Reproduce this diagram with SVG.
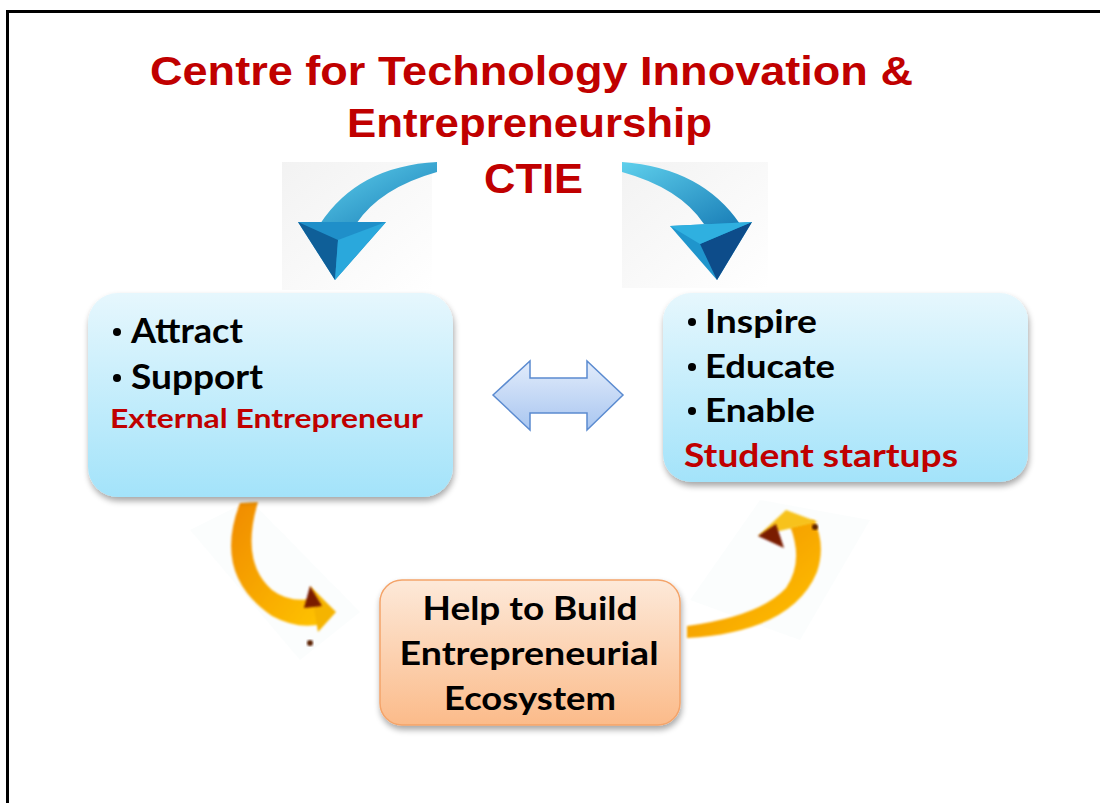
<svg xmlns="http://www.w3.org/2000/svg" width="1100" height="803" viewBox="0 0 1100 803">
<defs>
<linearGradient id="gBox" x1="0" y1="0" x2="0" y2="1"><stop offset="0" stop-color="#e6f7fd"/><stop offset="1" stop-color="#a3e3fa"/></linearGradient>
<linearGradient id="gOr" x1="0" y1="0" x2="0" y2="1"><stop offset="0" stop-color="#fde9d9"/><stop offset="1" stop-color="#fbbb8a"/></linearGradient>
<linearGradient id="gDbl" x1="0" y1="0" x2="0" y2="1"><stop offset="0" stop-color="#e2ecfb"/><stop offset="1" stop-color="#a9c6f0"/></linearGradient>
<linearGradient id="gBg" x1="0" y1="0" x2="1" y2="1"><stop offset="0" stop-color="#ededed"/><stop offset="1" stop-color="#ffffff"/></linearGradient>
<linearGradient id="gBlue" x1="0" y1="0" x2="1" y2="1"><stop offset="0" stop-color="#5fd0ec"/><stop offset="1" stop-color="#1a7fb8"/></linearGradient>
<linearGradient id="gOrA" x1="0" y1="0" x2="1" y2="1"><stop offset="0" stop-color="#f08a00"/><stop offset="1" stop-color="#ffc400"/></linearGradient>
<filter id="sh" x="-10%" y="-10%" width="120%" height="130%"><feGaussianBlur in="SourceAlpha" stdDeviation="3"/><feOffset dx="1" dy="4"/><feComponentTransfer><feFuncA type="linear" slope="0.35"/></feComponentTransfer><feMerge><feMergeNode/><feMergeNode in="SourceGraphic"/></feMerge></filter>
<filter id="blur"><feGaussianBlur stdDeviation="1"/></filter>
</defs>
<style>
.t{font-family:"Liberation Sans",Arial,sans-serif;font-weight:bold;fill:#c00000;}
.b{font-family:Lato,"Open Sans",sans-serif;font-weight:bold;fill:#000;}
.r{font-family:Lato,"Open Sans",sans-serif;font-weight:bold;fill:#c00000;}
</style>
<rect width="1100" height="803" fill="#fff"/>
<path d="M7.5 803 V11.5 H1100" fill="none" stroke="#000" stroke-width="3"/>

<g id="title">
<text class="t" x="150" y="85" font-size="40" textLength="763" lengthAdjust="spacingAndGlyphs">Centre for Technology Innovation &amp;</text>
<text class="t" x="347" y="137" font-size="40" textLength="365" lengthAdjust="spacingAndGlyphs">Entrepreneurship</text>
<text class="t" x="484" y="193" font-size="43" textLength="99" lengthAdjust="spacingAndGlyphs">CTIE</text>
</g>

<g id="connectors">
<g id="arrow-blue-left">
<rect x="282" y="162" width="150" height="128" fill="url(#gBg)" opacity="0.7"/>
<path d="M437 162 Q358 166 320 224 L356 224 Q380 188 437 172 Z" fill="url(#gBlue)"/>
<path d="M298 222 L386 222 L335 280 Z" fill="#1f8fc9"/>
<path d="M298 222 L335 280 L338 240 Z" fill="#0f5f98"/>
<path d="M338 240 L335 280 L386 222 Z" fill="#2aa8dc"/>
</g>
<g id="arrow-blue-right">
<rect x="622" y="162" width="146" height="126" fill="url(#gBg)" opacity="0.7"/>
<path d="M622 162 Q702 168 740 224 L704 224 Q680 188 622 172 Z" fill="url(#gBlue)"/>
<path d="M670 226 L752 222 L717 280 Z" fill="#1f95cc"/>
<path d="M700 244 L717 280 L752 222 Z" fill="#0d4c8a"/>
<path d="M670 226 L700 244 L752 222 Z" fill="#2fb0e0"/>
</g>
<g id="arrow-double">
<path d="M493 395 L530 361 L530 378 L587 378 L587 361 L623 395 L587 430 L587 413 L530 413 L530 430 Z" fill="url(#gDbl)" stroke="#5b8bd0" stroke-width="1.5"/>
</g>
<g id="arrow-orange-left">
<polygon points="190,530 250,500 360,612 300,660" fill="#fafcfd" opacity="0.8"/>
<path d="M240 503 Q212 575 272 616 Q298 630 322 624 L318 598 Q290 604 272 590 Q240 562 258 502 Z" fill="url(#gOrA)" filter="url(#blur)"/>
<path d="M310 586 L336 612 L318 632 Z" fill="#f5b400" filter="url(#blur)"/>
<path d="M310 586 L322 606 L304 608 Z" fill="#7a1a00" filter="url(#blur)"/>
<circle cx="310" cy="643" r="3" fill="#5a2000" filter="url(#blur)"/>
</g>
<g id="arrow-orange-right">
<polygon points="690,600 760,500 870,520 800,640" fill="#fafcfd" opacity="0.8"/>
<path d="M687 638 Q792 632 817 572 Q826 545 814 520 L790 526 Q804 562 786 588 Q760 616 687 626 Z" fill="url(#gOrA)" filter="url(#blur)"/>
<path d="M758 536 L786 510 L818 522 Z" fill="#f7c21a" filter="url(#blur)"/>
<path d="M758 536 L776 524 L784 548 Z" fill="#7a1a00" filter="url(#blur)"/>
<circle cx="815" cy="527" r="3" fill="#5a2000" filter="url(#blur)"/>
</g>
</g>

<g id="node-left">
<rect x="88" y="293" width="365" height="204" rx="30" fill="url(#gBox)" filter="url(#sh)"/>
<circle cx="117" cy="332" r="4" fill="#000"/>
<text class="b" x="131" y="343" font-size="34" textLength="112" lengthAdjust="spacingAndGlyphs">Attract</text>
<circle cx="117" cy="378" r="4" fill="#000"/>
<text class="b" x="131" y="389" font-size="34" textLength="132" lengthAdjust="spacingAndGlyphs">Support</text>
<text class="r" x="110" y="428" font-size="27" textLength="313" lengthAdjust="spacingAndGlyphs">External Entrepreneur</text>
</g>

<g id="node-right">
<rect x="663" y="293" width="365" height="189" rx="28" fill="url(#gBox)" filter="url(#sh)"/>
<circle cx="692" cy="322" r="4" fill="#000"/>
<text class="b" x="705" y="333" font-size="33" textLength="112" lengthAdjust="spacingAndGlyphs">Inspire</text>
<circle cx="692" cy="367" r="4" fill="#000"/>
<text class="b" x="705" y="378" font-size="33" textLength="130" lengthAdjust="spacingAndGlyphs">Educate</text>
<circle cx="692" cy="411" r="4" fill="#000"/>
<text class="b" x="705" y="422" font-size="33" textLength="110" lengthAdjust="spacingAndGlyphs">Enable</text>
<text class="r" x="684" y="467" font-size="32" textLength="274" lengthAdjust="spacingAndGlyphs">Student startups</text>
</g>

<g id="node-bottom">
<rect x="380" y="580" width="300" height="145" rx="22" fill="url(#gOr)" stroke="#f4a46a" stroke-width="1.5" filter="url(#sh)"/>
<text class="b" x="530" y="620" font-size="33" text-anchor="middle" textLength="215" lengthAdjust="spacingAndGlyphs">Help to Build</text>
<text class="b" x="529" y="665" font-size="33" text-anchor="middle" textLength="259" lengthAdjust="spacingAndGlyphs">Entrepreneurial</text>
<text class="b" x="530" y="710" font-size="33" text-anchor="middle" textLength="172" lengthAdjust="spacingAndGlyphs">Ecosystem</text>
</g>
</svg>
